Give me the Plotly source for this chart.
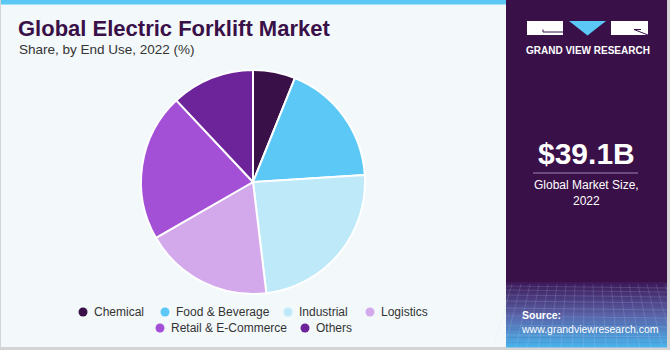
import plotly.graph_objects as go

# Market share by end use, 2022 (%)
segments = ["Chemical", "Food & Beverage", "Industrial", "Logistics", "Retail & E-Commerce", "Others"]
shares = [6.1, 17.9, 24.1, 18.6, 21.3, 12.0]
colors = ["#3a1048", "#5bc8f5", "#bde9f9", "#d3a9ec", "#a34fd6", "#6d2399"]

title_text = "Global Electric Forklift Market"
subtitle_text = "Share, by End Use, 2022 (%)"
market_size = "$39.1B"
market_label = "Global Market Size,<br>2022"

W, H = 670, 350


def px(x):
    return x / W


def py(y):
    return 1 - y / H


fig = go.Figure()

fig.add_trace(go.Pie(
    labels=segments,
    values=shares,
    sort=False,
    direction="clockwise",
    rotation=0,
    marker=dict(colors=colors, line=dict(color="#ffffff", width=2)),
    textinfo="none",
    hoverinfo="label+percent",
    showlegend=False,
    domain=dict(x=[px(141), px(365)], y=[py(294), py(70)]),
))

shapes = []
annotations = []

# panels
shapes.append(dict(type="rect", xref="paper", yref="paper", x0=px(1), x1=px(506), y0=py(347), y1=py(0),
                   fillcolor="#f3f8fb", line=dict(width=0), layer="below"))
shapes.append(dict(type="rect", xref="paper", yref="paper", x0=px(1), x1=px(506), y0=py(4.5), y1=py(0),
                   fillcolor="#5bc8f5", line=dict(width=0), layer="below"))
shapes.append(dict(type="rect", xref="paper", yref="paper", x0=px(506), x1=px(667), y0=py(347), y1=py(0),
                   fillcolor="#3a1048", line=dict(width=0), layer="below"))

# lower gradient band of the side panel
top_c = (0x3e, 0x1a, 0x58)
mid_c = (0x5a, 0x62, 0xa8)
bot_c = (0x4a, 0xb2, 0xea)
y_start, y_end = 282, 347
steps = 40
for i in range(steps):
    t = i / (steps - 1)
    if t < 0.5:
        u = t / 0.5
        c = tuple(int(top_c[k] + (mid_c[k] - top_c[k]) * u) for k in range(3))
    else:
        u = (t - 0.5) / 0.5
        c = tuple(int(mid_c[k] + (bot_c[k] - mid_c[k]) * u) for k in range(3))
    ya = y_start + (y_end - y_start) * i / steps
    yb = y_start + (y_end - y_start) * (i + 1) / steps + 0.5
    shapes.append(dict(type="rect", xref="paper", yref="paper", x0=px(506), x1=px(667),
                       y0=py(yb), y1=py(ya), fillcolor="rgb(%d,%d,%d)" % c,
                       line=dict(width=0), layer="below"))

# faint mesh lines
mesh = "rgba(200,215,255,0.16)"
for yy in [286, 290, 295, 301, 308, 316, 325, 335]:
    shapes.append(dict(type="line", xref="paper", yref="paper", x0=px(506), x1=px(667),
                       y0=py(yy), y1=py(yy + 2), line=dict(color=mesh, width=1)))
for xx in range(512, 667, 9):
    shapes.append(dict(type="line", xref="paper", yref="paper", x0=px(xx), x1=px(xx + (xx - 586) * 0.25),
                       y0=py(284), y1=py(347), line=dict(color=mesh, width=1)))

# logo blocks
white = "#ffffff"
shapes.append(dict(type="rect", xref="paper", yref="paper", x0=px(527), x1=px(563), y0=py(35), y1=py(21),
                   fillcolor=white, line=dict(width=0)))
shapes.append(dict(type="path", xref="paper", yref="paper",
                   path="M %f %f L %f %f L %f %f Z" % (px(569), py(21), px(606), py(21), px(587.5), py(35.5)),
                   fillcolor="#5bc8f5", line=dict(width=0)))
shapes.append(dict(type="rect", xref="paper", yref="paper", x0=px(611), x1=px(648), y0=py(35), y1=py(21),
                   fillcolor=white, line=dict(width=0)))
shapes.append(dict(type="line", xref="paper", yref="paper", x0=px(543), x1=px(563), y0=py(32), y1=py(32),
                   line=dict(color="#3a1048", width=1)))
shapes.append(dict(type="line", xref="paper", yref="paper", x0=px(543), x1=px(543), y0=py(29.5), y1=py(32),
                   line=dict(color="#3a1048", width=1)))
shapes.append(dict(type="line", xref="paper", yref="paper", x0=px(634), x1=px(648), y0=py(29.5), y1=py(35),
                   line=dict(color="#3a1048", width=1)))
shapes.append(dict(type="line", xref="paper", yref="paper", x0=px(634), x1=px(641), y0=py(29.5), y1=py(29.5),
                   line=dict(color="#3a1048", width=1)))

# divider under the market size
shapes.append(dict(type="line", xref="paper", yref="paper", x0=px(533), x1=px(638), y0=py(173), y1=py(173),
                   line=dict(color="#9a86b0", width=1)))

# title block
annotations.append(dict(text="<b>%s</b>" % title_text, x=px(16), y=py(29), xref="paper", yref="paper",
                        xanchor="left", yanchor="middle", showarrow=False,
                        font=dict(family="Liberation Sans, Arial", size=22, color="#3a1048")))
annotations.append(dict(text=subtitle_text, x=px(17), y=py(50), xref="paper", yref="paper",
                        xanchor="left", yanchor="middle", showarrow=False,
                        font=dict(family="Liberation Sans, Arial", size=13.5, color="#333333")))

# side panel text
annotations.append(dict(text="<b>GRAND VIEW RESEARCH</b>", x=px(587.5), y=py(51), xref="paper", yref="paper",
                        xanchor="center", yanchor="middle", showarrow=False,
                        font=dict(family="Liberation Sans, Arial", size=10, color="#ffffff")))
annotations.append(dict(text="<b>%s</b>" % market_size, x=px(586), y=py(154), xref="paper", yref="paper",
                        xanchor="center", yanchor="middle", showarrow=False,
                        font=dict(family="Liberation Sans, Arial", size=30, color="#ffffff")))
annotations.append(dict(text=market_label, x=px(586), y=py(193), xref="paper", yref="paper",
                        xanchor="center", yanchor="middle", showarrow=False,
                        font=dict(family="Liberation Sans, Arial", size=12, color="#ffffff")))
annotations.append(dict(text="<b>Source:</b><br>www.grandviewresearch.com", x=px(519), y=py(322),
                        xref="paper", yref="paper", xanchor="left", yanchor="middle", align="left",
                        showarrow=False,
                        font=dict(family="Liberation Sans, Arial", size=10.5, color="#ffffff")))

# legend: dot + label for each segment, two centred rows
legend_pos = [(83, 312), (165, 312), (288, 312), (370, 312), (160, 328), (305, 328)]
for name, col, (lx, ly) in zip(segments, colors, legend_pos):
    shapes.append(dict(type="circle", xref="paper", yref="paper",
                       x0=px(lx - 4.5), x1=px(lx + 4.5), y0=py(ly + 4.5), y1=py(ly - 4.5),
                       fillcolor=col, line=dict(width=0)))
    annotations.append(dict(text=name, x=px(lx + 9), y=py(ly), xref="paper", yref="paper",
                            xanchor="left", yanchor="middle", showarrow=False,
                            font=dict(family="Liberation Sans, Arial", size=12, color="#333333")))

fig.update_layout(
    width=W, height=H,
    margin=dict(l=0, r=0, t=0, b=0),
    paper_bgcolor="#d4d4d4",
    plot_bgcolor="rgba(0,0,0,0)",
    shapes=shapes,
    annotations=annotations,
    showlegend=False,
)

fig.write_html("out.html")
